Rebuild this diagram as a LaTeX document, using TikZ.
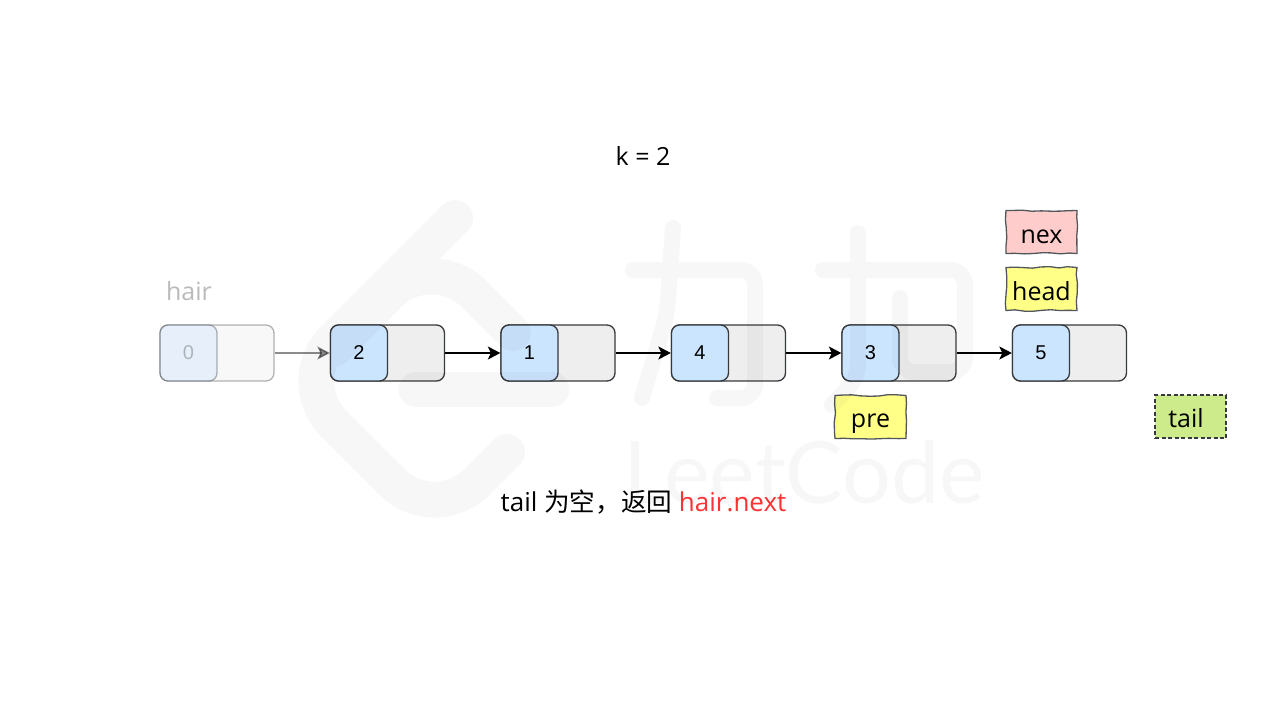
\documentclass[tikz,border=0pt]{standalone}
\usepackage{fontspec}
\setmainfont{Open Sans}
\newfontfamily\numfont{Liberation Sans}
\newfontfamily\cjk{Noto Sans CJK SC}
\newfontfamily\markfont{Lato}
\usetikzlibrary{arrows.meta,decorations.pathmorphing}
\definecolor{ink}{HTML}{36393D}
\definecolor{cellblue}{HTML}{CCE5FF}
\definecolor{cellgrey}{HTML}{EEEEEE}
\definecolor{noteyellow}{HTML}{FFFF88}
\definecolor{notepink}{HTML}{FFCCCC}
\definecolor{notegreen}{HTML}{CDEB8B}
\definecolor{capred}{HTML}{FF3333}
\tikzset{
  x=1pt,y=-1pt,
  listbox/.style={draw=ink,fill=cellgrey,line width=1.3pt,rounded corners=8pt,minimum width=114pt,minimum height=56pt,inner sep=0pt},
  valbox/.style={draw=ink,fill=cellblue,line width=1.3pt,rounded corners=8pt,minimum width=57pt,minimum height=56pt,inner sep=0pt,font=\numfont\fontsize{20}{22}\selectfont,text=black},
  link/.style={draw=black,line width=1.5pt,-{Stealth[length=12.5pt,width=13pt,inset=3pt]}},
  faded/.style={opacity=0.38,text opacity=0.25},
  notetext/.style={font=\fontsize{25}{28}\selectfont,text=black},
  sketchnote/.style={draw=ink!85,line width=1.3pt,minimum width=71pt,minimum height=43pt,inner sep=0pt,notetext,text depth=0pt,
    decorate,decoration={random steps,segment length=9pt,amplitude=0.8pt}},
  wmark/.style={draw=black,draw opacity=0.03,line cap=round,line join=round},
}
\pgfmathsetseed{7}
\begin{document}
\begin{tikzpicture}
\useasboundingbox (0,0) rectangle (1280,720);
\fill[white] (0,0) rectangle (1280,720);
% list
\node[listbox,faded] (b0) at (217,353) {};
\node[valbox,faded] (v0) at (188.5,353) {0};
\node[listbox] (b2) at (387.5,353) {};
\node[valbox] (v2) at (359,353) {2};
\node[listbox] (b1) at (558,353) {};
\node[valbox] (v1) at (529.5,353) {1};
\node[listbox] (b4) at (728.5,353) {};
\node[valbox] (v4) at (700,353) {4};
\node[listbox] (b3) at (899,353) {};
\node[valbox] (v3) at (870.5,353) {3};
\node[listbox] (b5) at (1069.5,353) {};
\node[valbox] (v5) at (1041,353) {5};
\draw[link,opacity=0.45] (b0.east) -- (v2.west);
\draw[link] (b2.east) -- (v1.west);
\draw[link] (b1.east) -- (v4.west);
\draw[link] (b4.east) -- (v3.west);
\draw[link] (b3.east) -- (v5.west);
% labels
\node[notetext,anchor=base] (kv) at (643,165) {k = 2};
\node[notetext,text opacity=0.27,anchor=base] (hl) at (189,300) {hair};
\node[sketchnote,fill=notepink,text height=22pt] (nex) at (1041.5,232) {nex};
\node[sketchnote,fill=noteyellow,text height=22pt] (head) at (1041.5,289) {head};
\node[sketchnote,fill=noteyellow,text height=20pt] (pre) at (870.5,417) {pre};
\node[draw=ink,dashed,dash pattern=on 4pt off 2.5pt,line width=1.3pt,fill=notegreen,minimum width=71pt,minimum height=43pt,inner sep=0pt,notetext,text height=21pt,text depth=0pt] (tail) at (1190.5,416.5) {\hspace*{-9pt}tail};
\node[font=\fontsize{26}{30}\selectfont,text=black,anchor=base] (cap) at (643.5,511) {tail {\cjk\fontsize{25.6}{30}\selectfont 为空，返回} \textcolor{capred}{hair.next}};
% watermark
\draw[wmark,line width=36pt,rounded corners=60pt]
  (455,218) -- (291.5,381.5) -- (434.5,524.5) -- (507,452)
  (335,348) -- (431.5,251.5) -- (513,333);
\draw[wmark,line width=35pt] (416,389.5) -- (552,389.5);
\draw[wmark,line width=16pt,rounded corners=14pt]
  (673,228) -- (667,315) -- (642,398)
  (633,270) -- (755,270) -- (755,398) -- (717,398)
  (858,233) -- (858,378) -- (832,405)
  (900,298) -- (900,372) -- (965,372) -- (965,270) -- (823,270);
\node[text=black,text opacity=0.03,font=\markfont\fontsize{86}{90}\selectfont,anchor=base] (wm) at (804,503) {LeetCode};
\end{tikzpicture}
\end{document}
